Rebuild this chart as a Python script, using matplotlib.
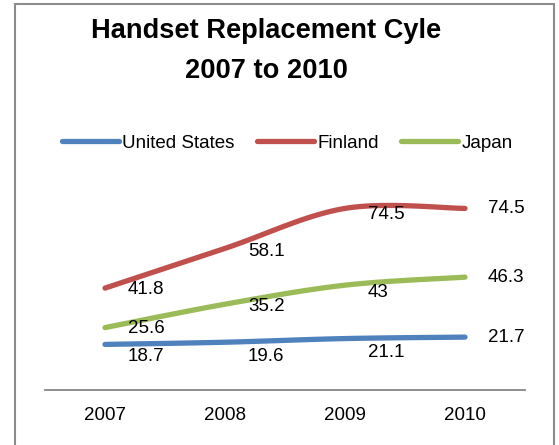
import numpy as np
import matplotlib
matplotlib.use('Agg')
import matplotlib.pyplot as plt
from matplotlib.patches import Rectangle

# chart data
years = ['2007', '2008', '2009', '2010']
series_names = ['United States', 'Finland', 'Japan']
united_states = [18.7, 19.6, 21.1, 21.7]
finland = [41.8, 58.1, 74.5, 74.5]
japan = [25.6, 35.2, 43, 46.3]

colors = ['#4F81BD', '#C0504D', '#9BBB59']
# how far (in pixels) each data label sits below its point, as in the original
label_drop = [[12, 14.5, 13.5, 0],
              [1, 3, 6, 0],
              [1, 2, 7.5, 0]]

plt.rcParams['font.family'] = ['Liberation Sans', 'DejaVu Sans']

W, H = 559, 445


def smooth(xs, ys, steps=40):
    """ excel-like smoothed line: cubic bezier pieces with catmull-rom handles """
    xs = np.asarray(xs, dtype=float)
    ys = np.asarray(ys, dtype=float)
    px = np.concatenate([[xs[0]], xs, [xs[-1]]])
    py = np.concatenate([[ys[0]], ys, [ys[-1]]])
    outx, outy = [], []
    t = np.linspace(0, 1, steps)
    for i in range(1, len(px) - 2):
        p0 = np.array([px[i], py[i]])
        p3 = np.array([px[i + 1], py[i + 1]])
        c1 = p0 + (np.array([px[i + 1], py[i + 1]]) - np.array([px[i - 1], py[i - 1]])) / 6
        c2 = p3 - (np.array([px[i + 2], py[i + 2]]) - np.array([px[i], py[i]])) / 6
        b = ((1 - t) ** 3)[:, None] * p0 + (3 * (1 - t) ** 2 * t)[:, None] * c1 \
            + (3 * (1 - t) * t ** 2)[:, None] * c2 + (t ** 3)[:, None] * p3
        outx.extend(b[:, 0])
        outy.extend(b[:, 1])
    return outx, outy


fig = plt.figure(figsize=(W / 100, H / 100), dpi=100)
ax = fig.add_axes([45 / W, 55 / H, 480 / W, 195 / H])

x = np.arange(len(years))
for k, (name, vals) in enumerate(zip(series_names, [united_states, finland, japan])):
    sx, sy = smooth(x, vals)
    ax.plot(sx, sy, color=colors[k], lw=3.8, solid_capstyle='round', label=name)
    for i, v in enumerate(vals):
        ax.annotate('%g' % v, (x[i], v), xytext=(23, -label_drop[k][i]),
                    textcoords='offset pixels', ha='left', va='center',
                    fontsize=13.5, color='black', annotation_clip=False)

ax.set_xlim(-0.5, 3.5)
ax.set_ylim(0, 80)
ax.set_xticks(x)
ax.set_xticklabels(years, fontsize=13.5)
ax.tick_params(axis='x', length=0, pad=12.5)
ax.set_yticks([])
for side in ['left', 'right', 'top']:
    ax.spines[side].set_visible(False)
ax.spines['bottom'].set_color('#868686')
ax.spines['bottom'].set_linewidth(1.3)

# title, two lines
fig.text(266 / W, 1 - 38 / H, 'Handset Replacement Cyle', ha='center', va='baseline',
         fontsize=19.6, fontweight='bold')
fig.text(266 / W, 1 - 78 / H, '2007 to 2010', ha='center', va='baseline',
         fontsize=19.6, fontweight='bold')

fig.legend(loc='center', bbox_to_anchor=(287.5 / W, 1 - 143 / H), ncol=3,
           frameon=False, fontsize=13.5, handlelength=3.0, handletextpad=0.2,
           columnspacing=1.2, borderaxespad=0)

# grey chart border (bottom edge is outside the picture)
fig.add_artist(Rectangle((15 / W, -0.05), 539 / W, 1.05 - 4 / H, transform=fig.transFigure,
                         fill=False, edgecolor='#8c8c8c', lw=1.5))

fig.savefig('out.png', dpi=100)
